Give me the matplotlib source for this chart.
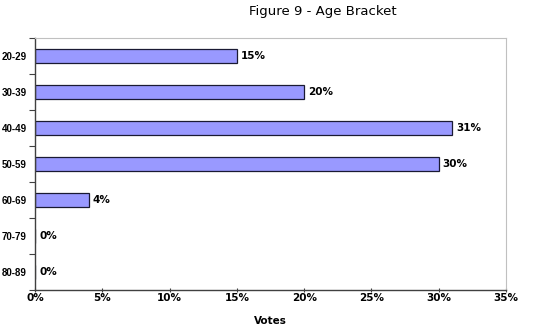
import matplotlib
matplotlib.use("Agg")
import matplotlib.pyplot as plt
from matplotlib.ticker import FixedLocator, NullFormatter

# Share of votes per age bracket (percent)
brackets = ["20-29", "30-39", "40-49", "50-59", "60-69", "70-79", "80-89"]
votes = [15, 20, 31, 30, 4, 0, 0]
xticks = [0, 5, 10, 15, 20, 25, 30, 35]
xticklabels = ["0%", "5%", "10%", "15%", "20%", "25%", "30%", "35%"]

fig = plt.figure(figsize=(5.49, 3.3), dpi=100)
ax = fig.add_axes([35 / 549, 1 - 290 / 330, (506 - 35) / 549, (290 - 38) / 330])

ypos = list(range(len(brackets)))
ax.barh(ypos, votes, height=0.38, color="#9999FF", edgecolor="#1a1a33", linewidth=0.9)

for y, v in zip(ypos, votes):
    ax.text(v + 0.3, y, f"{v}%", va="center", ha="left", fontsize=7.5,
            fontweight="bold", color="black", family="DejaVu Sans")

ax.set_xlim(0, 35)
ax.set_ylim(len(brackets) - 0.5, -0.5)
ax.set_xticks(xticks)
ax.set_xticklabels(xticklabels, fontsize=7.5, fontweight="bold")

# category labels centered, tick marks on the category boundaries
ax.set_yticks(ypos)
ax.set_yticklabels(brackets, fontsize=7, fontweight="bold", family="Liberation Sans")
ax.tick_params(axis="y", which="major", length=0, pad=6)
ax.yaxis.set_minor_locator(FixedLocator([i - 0.5 for i in range(len(brackets) + 1)]))
ax.yaxis.set_minor_formatter(NullFormatter())
ax.tick_params(axis="y", which="minor", length=4, width=0.8, color="#404040", direction="out")
ax.tick_params(axis="x", length=3, width=0.8, color="#404040", direction="inout", pad=1)

for side in ("top", "right"):
    ax.spines[side].set_color("#c0c0c0")
    ax.spines[side].set_linewidth(0.8)
for side in ("left", "bottom"):
    ax.spines[side].set_color("#404040")
    ax.spines[side].set_linewidth(1.0)

ax.set_xlabel("Votes", fontsize=7.5, fontweight="bold", labelpad=9)
fig.text(323 / 549, 1 - 12 / 330, "Figure 9 - Age Bracket", ha="center", va="center",
         fontsize=9.5, family="DejaVu Sans")

fig.savefig("out.png", dpi=100, facecolor="white")
